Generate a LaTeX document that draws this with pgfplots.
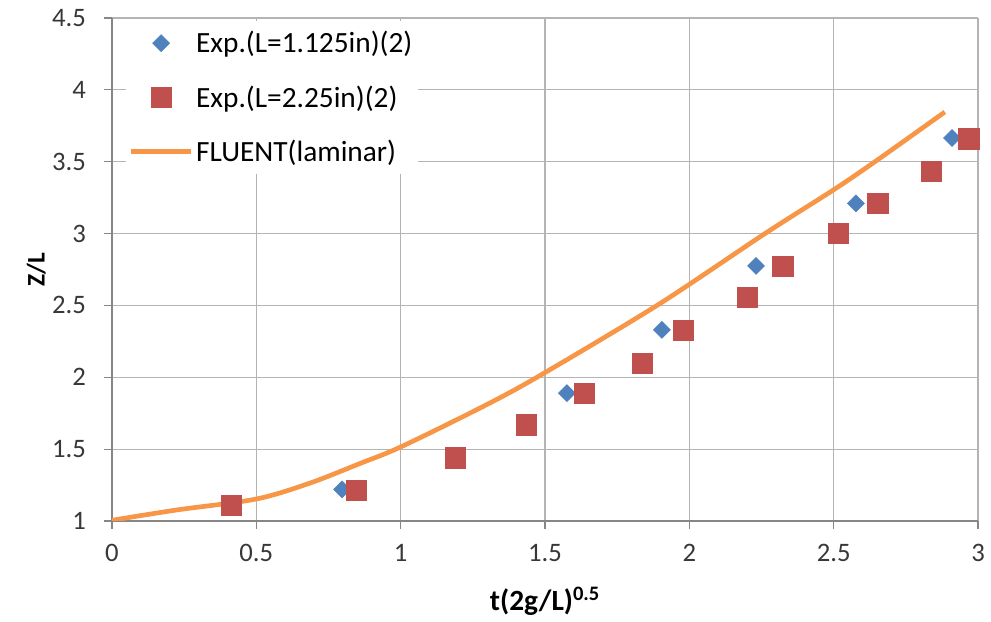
\documentclass[border=0pt]{standalone}
\usepackage{fontspec}
\setmainfont{Carlito}
\usepackage{pgfplots}
\pgfplotsset{compat=1.18}
\usetikzlibrary{calc}
\definecolor{cblue}{RGB}{79,129,189}
\definecolor{cred}{RGB}{192,80,77}
\definecolor{corange}{RGB}{247,150,70}
\definecolor{gridc}{RGB}{180,180,180}
\definecolor{axc}{RGB}{134,134,134}
\pgfplotsset{legmark/.style={legend image code/.code={\draw[##1] plot coordinates {(22.5pt,0pt)};}}}
\begin{document}
\begin{tikzpicture}
\begin{axis}[
  scale only axis,
  width=649.5pt, height=377.25pt,
  xmin=0, xmax=3, ymin=1, ymax=4.5,
  xtick={0,0.5,...,3}, ytick={1,1.5,...,4.5},
  axis lines=left,
  axis line style={-, draw=axc, line width=0.8pt},
  grid=major,
  major grid style={draw=gridc, line width=0.8pt},
  tick align=outside,
  major tick length=6pt,
  tick style={draw=axc, line width=0.8pt},
  /pgf/number format/assume math mode=true,
  ticklabel style={font=\fontsize{20}{24}\selectfont, text=black!78},
  xticklabel style={yshift=-8pt},
  yticklabel style={xshift=-10pt},
  xlabel={\textbf{t(2g/L)\textsuperscript{0.5}}},
  ylabel={\textbf{Z/L}},
  xlabel style={font=\fontsize{22}{26}\selectfont, yshift=-12pt},
  ylabel style={font=\fontsize{19}{23}\selectfont, yshift=-2pt},
  legend cell align=left,
  legend style={at={(rel axis cs:0.016,0.995)}, anchor=north west, draw=none, fill=white,
    font=\fontsize{22}{26}\selectfont, row sep=19pt, inner xsep=2pt, inner ysep=6pt,
    nodes={inner sep=2pt}},
]
\addplot[corange, line width=3.5pt, smooth, forget plot] coordinates {
(0,1.005) (0.225,1.077) (0.5,1.153) (0.686,1.264) (0.859,1.40) (1.0,1.515) (1.275,1.786)
(1.472,2.0) (1.888,2.5) (2.262,3.0) (2.504,3.31) (2.65,3.51) (2.885,3.846)};
\addplot[only marks, mark=square*, mark size=4.5pt, mark options={fill=cblue, draw=cblue, rotate=45}, legmark] coordinates {
(0.797,1.22) (1.576,1.89) (1.905,2.33) (2.231,2.775) (2.577,3.21) (2.91,3.665)};
\addlegendentry{Exp.(L=1.125in)(2)}
\addplot[only marks, mark=square*, mark size=7.6pt, mark options={fill=cred, draw=cred}, legmark] coordinates {
(0.412,1.107) (0.845,1.216) (1.19,1.44) (1.434,1.67) (1.635,1.89) (1.836,2.10)
(1.98,2.325) (2.20,2.555) (2.324,2.77) (2.515,3.0) (2.653,3.21) (2.837,3.435) (2.968,3.66)};
\addlegendentry{Exp.(L=2.25in)(2)}
\addlegendimage{legend image code/.code={\draw[corange, line width=3.5pt] (0pt,0pt) -- (45pt,0pt);}}
\addlegendentry{FLUENT(laminar)}
\end{axis}
\pgfresetboundingbox
\path (current axis.south west) ++(-84pt,-75.75pt) rectangle ($(current axis.north east)+(9.75pt,13.5pt)$);
\end{tikzpicture}
\end{document}
